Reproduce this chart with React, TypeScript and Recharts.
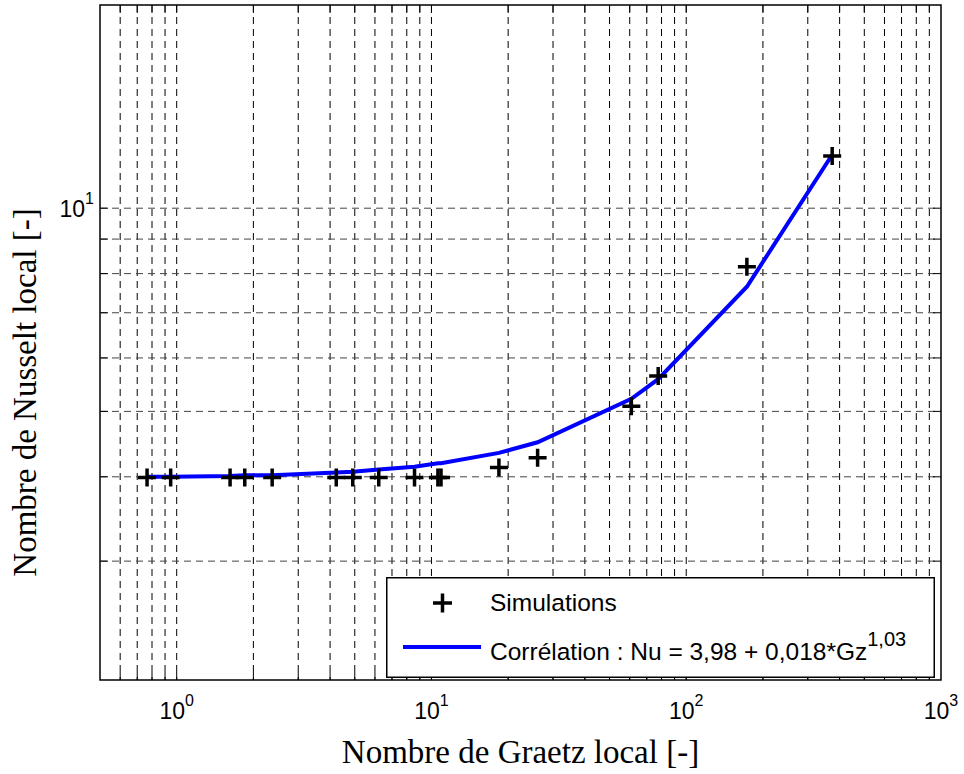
import React from 'react';
import {
  ComposedChart,
  XAxis,
  YAxis,
  Scatter,
  Line,
  ReferenceLine,
  ReferenceArea,
  Legend,
  Label,
} from 'recharts';

// ---- data ----
const simGz = [0.765, 0.947, 1.62, 1.85, 2.37, 4.23, 4.91, 6.21, 8.58, 10.6, 10.9, 18.4, 26.1, 60.9, 77.6, 173, 374];
const simNu = [3.99, 3.99, 3.99, 3.99, 3.99, 3.99, 3.99, 3.99, 3.99, 3.99, 3.99, 4.13, 4.27, 5.09, 5.64, 8.19, 11.95];

const corrGz = [0.765, 0.947, 1.62, 1.85, 2.37, 4.23, 4.91, 6.21, 8.58, 10.6, 10.9, 18.4, 26.1, 60.9, 77.6, 173, 374];
const corrNu = [4.0, 4.0, 4.01, 4.02, 4.02, 4.06, 4.07, 4.1, 4.14, 4.19, 4.19, 4.34, 4.5, 5.22, 5.58, 7.65, 12.0];

const xDomain = [0.5, 1000];
const yDomain = [2, 20];
const xTicks = [1, 10, 100, 1000];
const yTicks = [10];
const xGrid = [0.6, 0.7, 0.8, 0.9, 1, 2, 3, 4, 5, 6, 7, 8, 9, 10, 20, 30, 40, 50, 60, 70, 80, 90, 100, 200, 300, 400, 500, 600, 700, 800, 900];
const yGrid = [3, 4, 5, 6, 7, 8, 9, 10];

const seriesNames = ['Simulations', 'Corrélation : Nu = 3,98 + 0,018*Gz'];
const seriesExponents = ['', '1,03'];
const xTitle = 'Nombre de Graetz local [-]';
const yTitle = 'Nombre de Nusselt local [-]';

const simData = simGz.map((gz, i) => ({ gz, nu: simNu[i] }));
const corrData = corrGz.map((gz, i) => ({ gz, nu: corrNu[i] }));

const SANS = "'Liberation Sans', Arial, Helvetica, sans-serif";
const SERIF = "'Liberation Serif', 'Times New Roman', Times, serif";
const DASH = '7 5';
const TICK_LEN = 8;

const XTick = (props: any) => {
  const { x, y, payload } = props;
  const exp = Math.round(Math.log10(payload.value));
  return (
    <text x={x} y={y + 39} textAnchor="middle" fontFamily={SANS} fill="#000">
      <tspan fontSize={23}>10</tspan>
      <tspan fontSize={16} dy={-13}>{exp}</tspan>
    </text>
  );
};

const YTick = (props: any) => {
  const { x, y, payload } = props;
  const exp = Math.round(Math.log10(payload.value));
  return (
    <text x={x - 6} y={y + 9} textAnchor="end" fontFamily={SANS} fill="#000">
      <tspan fontSize={23}>10</tspan>
      <tspan fontSize={16} dy={-13}>{exp}</tspan>
    </text>
  );
};

const VGridShape = (props: any) => {
  const { x1, y1, y2 } = props;
  const top = Math.min(y1, y2);
  const bottom = Math.max(y1, y2);
  return (
    <g>
      <line x1={x1} x2={x1} y1={top} y2={bottom} stroke="#000" strokeWidth={1} strokeDasharray={DASH} />
      <line x1={x1} x2={x1} y1={bottom} y2={bottom - TICK_LEN} stroke="#000" strokeWidth={1} />
      <line x1={x1} x2={x1} y1={top} y2={top + TICK_LEN} stroke="#000" strokeWidth={1} />
    </g>
  );
};

const HGridShape = (props: any) => {
  const { x1, x2, y1 } = props;
  const left = Math.min(x1, x2);
  const right = Math.max(x1, x2);
  return (
    <g>
      <line x1={left} x2={right} y1={y1} y2={y1} stroke="#444" strokeWidth={1} strokeDasharray={DASH} />
      <line x1={left} x2={left + TICK_LEN} y1={y1} y2={y1} stroke="#000" strokeWidth={1} />
      <line x1={right} x2={right - TICK_LEN} y1={y1} y2={y1} stroke="#000" strokeWidth={1} />
    </g>
  );
};

const PlusShape = (props: any) => {
  const { cx, cy } = props;
  if (cx == null || cy == null) return null;
  const h = 9;
  return (
    <path
      d={`M${cx - h},${cy}H${cx + h}M${cx},${cy - h}V${cy + h}`}
      stroke="#000"
      strokeWidth={3.5}
      fill="none"
    />
  );
};

const XTitle = (props: any) => {
  const vb = props.viewBox || {};
  return (
    <text
      x={vb.x + vb.width / 2}
      y={vb.y + 83}
      textAnchor="middle"
      fontFamily={SERIF}
      fontSize={33}
      fill="#000"
    >
      {xTitle}
    </text>
  );
};

const YTitle = (props: any) => {
  const vb = props.viewBox || {};
  const cx = vb.x + 36;
  const cy = vb.y + vb.height / 2 + 50;
  return (
    <text
      x={cx}
      y={cy}
      transform={`rotate(-90, ${cx}, ${cy})`}
      textAnchor="middle"
      fontFamily={SERIF}
      fontSize={33}
      fill="#000"
    >
      {yTitle}
    </text>
  );
};

const LegendBox = () => {
  const W = 549;
  const H = 101;
  return (
    <div style={{ width: W, height: H, background: '#fff' }}>
      <svg width={W} height={H} style={{ display: 'block' }}>
        <rect x={0.75} y={0.75} width={W - 1.5} height={H - 1.5} fill="#fff" stroke="#000" strokeWidth={1.5} />
        {seriesNames.map((name, i) => {
          const rowY = i === 0 ? 34 : 83;
          return (
            <g key={name}>
              {i === 0 ? (
                <path d={`M47,26H66M56.5,16.5V35.5`} stroke="#000" strokeWidth={3.5} fill="none" />
              ) : (
                <line x1={17} x2={95} y1={70} y2={70} stroke="#0000ff" strokeWidth={4} />
              )}
              <text x={104} y={rowY} fontFamily={SANS} fontSize={24.5} fill="#000">
                {name}
                {seriesExponents[i] ? (
                  <tspan fontSize={20} dy={-14}>{seriesExponents[i]}</tspan>
                ) : null}
              </text>
            </g>
          );
        })}
      </svg>
    </div>
  );
};

export default function App() {
  return (
    <div style={{ position: 'absolute', left: 0, top: 0, width: 964, height: 774, background: '#fff' }}>
      <ComposedChart width={964} height={774} margin={{ top: 5, right: 23, bottom: 0, left: 0 }}>
        <XAxis
          dataKey="gz"
          type="number"
          scale="log"
          domain={xDomain}
          allowDataOverflow
          ticks={xTicks}
          interval={0}
          tick={<XTick />}
          tickLine={false}
          axisLine={false}
          tickSize={0}
          tickMargin={0}
          height={94}
        >
          <Label content={<XTitle />} />
        </XAxis>
        <YAxis
          dataKey="nu"
          type="number"
          scale="log"
          domain={yDomain}
          allowDataOverflow
          ticks={yTicks}
          interval={0}
          tick={<YTick />}
          tickLine={false}
          axisLine={false}
          tickSize={0}
          tickMargin={0}
          width={100}
        >
          <Label content={<YTitle />} />
        </YAxis>
        {xGrid.map((v) => (
          <ReferenceLine key={'vx' + v} x={v} shape={<VGridShape />} />
        ))}
        {yGrid.map((v) => (
          <ReferenceLine key={'hy' + v} y={v} shape={<HGridShape />} />
        ))}
        <ReferenceArea
          x1={xDomain[0]}
          x2={xDomain[1]}
          y1={yDomain[0]}
          y2={yDomain[1]}
          fill="none"
          fillOpacity={0}
          stroke="#000"
          strokeWidth={1.5}
        />
        <Scatter
          name={seriesNames[0]}
          data={simData}
          dataKey="nu"
          shape={<PlusShape />}
          legendType="cross"
          isAnimationActive={false}
        />
        <Line
          name={seriesNames[1]}
          data={corrData}
          dataKey="nu"
          type="linear"
          stroke="#0000ff"
          strokeWidth={4}
          dot={false}
          activeDot={false}
          legendType="line"
          isAnimationActive={false}
        />
        <Legend
          layout="vertical"
          align="center"
          verticalAlign="middle"
          content={<LegendBox />}
          wrapperStyle={{ left: 386, top: 577, width: 549, height: 101 }}
        />
      </ComposedChart>
    </div>
  );
}
